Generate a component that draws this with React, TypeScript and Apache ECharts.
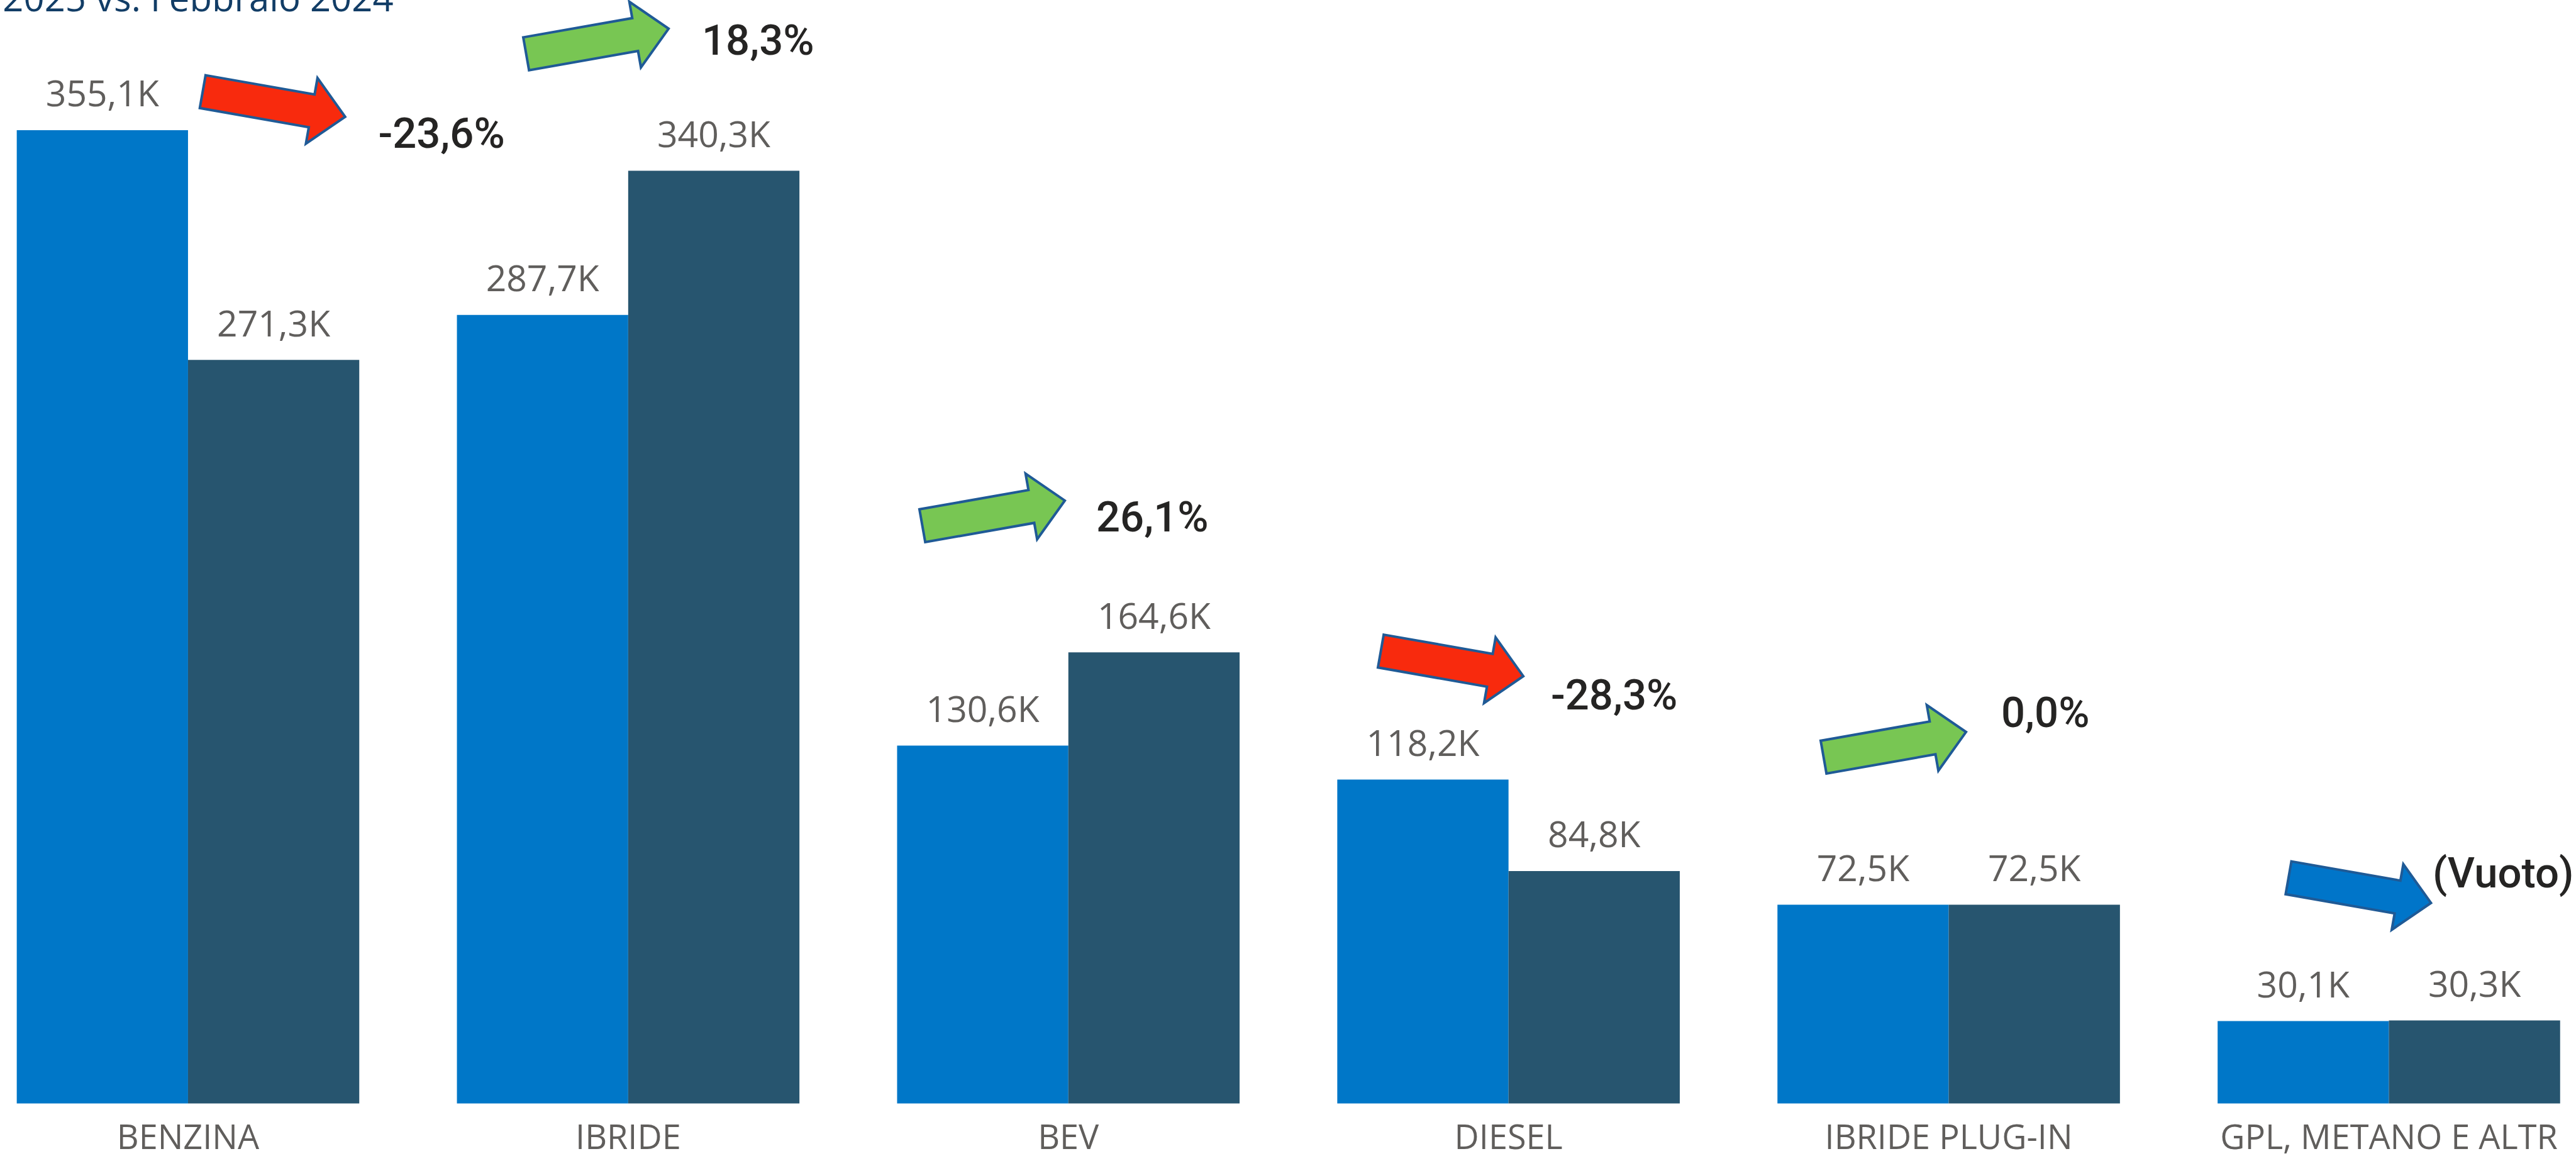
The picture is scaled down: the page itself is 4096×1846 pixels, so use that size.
import React, { useEffect, useRef } from 'react';
import * as echarts from 'echarts';

// ---- data ----
const categories = ['BENZINA', 'IBRIDE', 'BEV', 'DIESEL', 'IBRIDE PLUG-IN', 'GPL, METANO E ALTR'];
const feb2024 = [355.1, 287.7, 130.6, 118.2, 72.5, 30.1]; // thousands
const feb2025 = [271.3, 340.3, 164.6, 84.8, 72.5, 30.3]; // thousands
const changeLabels = ['-23,6%', '18,3%', '26,1%', '-28,3%', '0,0%', '(Vuoto)'];
const changeKinds = ['down', 'up', 'up', 'down', 'up', 'blank'];
const subtitle = '2025 vs. Febbraio 2024';

// ---- layout of annotations (output px) ----
const arrowTails = [
  [322.3, 145.7],
  [836.6, 85.5],
  [1466.6, 835.9],
  [2195.6, 1035.2],
  [2899.6, 1203.8],
  [3638.9, 1395.7],
];
const changeTextPos = [
  [601.4, 211.9],
  [1116, 63.6],
  [1743, 822],
  [2466, 1105],
  [3182, 1132.5],
  [3868, 1387.7],
];

const ARROW_FILL: Record<string, string> = { down: '#F82A0D', up: '#78C653', blank: '#0075C9' };
const ARROW_ANGLE: Record<string, number> = { down: 10, up: -10, blank: 10 };

function arrowPoints(tx: number, ty: number, angleDeg: number) {
  const ht = 26.5, sl = 176, hw = 53, hl = 54;
  const local = [
    [0, -ht], [sl, -ht], [sl, -hw], [sl + hl, 0], [sl, hw], [sl, ht], [0, ht],
  ];
  const a = (angleDeg * Math.PI) / 180;
  const c = Math.cos(a), s = Math.sin(a);
  return local.map(([px, py]) => [tx + px * c - py * s, ty + px * s + py * c]);
}

const fmt = (p: any) => p.value.toFixed(1).replace('.', ',') + 'K';

export default function App() {
  const ref = useRef<HTMLDivElement>(null);
  useEffect(() => {
    if (!ref.current) return;
    const chart = echarts.init(ref.current, null, { renderer: 'svg' });

    const graphics: any[] = [
      {
        type: 'text',
        x: 4.3,
        y: -4.2,
        style: {
          text: subtitle,
          fontSize: 58,
          fontFamily: '"Open Sans", sans-serif',
          fill: '#123D66',
          verticalAlign: 'middle',
          align: 'left',
        },
      },
    ];
    changeKinds.forEach((k, i) => {
      graphics.push({
        type: 'polygon',
        shape: { points: arrowPoints(arrowTails[i][0], arrowTails[i][1], ARROW_ANGLE[k]) },
        style: { fill: ARROW_FILL[k], stroke: '#1F5A96', lineWidth: 4, lineJoin: 'miter' },
      });
      graphics.push({
        type: 'text',
        x: changeTextPos[i][0],
        y: changeTextPos[i][1],
        style: {
          text: changeLabels[i],
          fontSize: 67,
          fontWeight: 500,
          fontFamily: 'Roboto, sans-serif',
          fill: '#252423',
          verticalAlign: 'middle',
          align: 'left',
        },
      });
    });

    const labelStyle = {
      show: true,
      position: 'top',
      distance: 31,
      fontSize: 57,
      color: '#605E5C',
      fontFamily: '"Open Sans", sans-serif',
      formatter: fmt,
    };

    chart.setOption({
      animation: false,
      grid: {
        left: -51,
        top: 11.2,
        width: 4199.4,
        height: 1743.4,
        containLabel: false,
        outerBoundsMode: 'none',
      },
      xAxis: {
        type: 'category',
        data: categories,
        axisLine: { show: false },
        axisTick: { show: false },
        splitLine: { show: false },
        axisLabel: {
          interval: 0,
          margin: 24,
          fontSize: 54,
          color: '#605E5C',
          fontFamily: '"Open Sans", sans-serif',
        },
      },
      yAxis: { type: 'value', min: 0, max: 400, show: false, splitLine: { show: false } },
      series: [
        {
          type: 'bar',
          name: 'Febbraio 2024',
          data: feb2024,
          barWidth: 272.3,
          barGap: '0%',
          itemStyle: { color: '#0077C8' },
          label: labelStyle,
        },
        {
          type: 'bar',
          name: 'Febbraio 2025',
          data: feb2025,
          barWidth: 272.3,
          barGap: '0%',
          itemStyle: { color: '#27556F' },
          label: labelStyle,
        },
      ],
      graphic: graphics,
    });
    return () => chart.dispose();
  }, []);

  return (
    <div
      ref={ref}
      style={{ position: 'fixed', left: 0, top: 0, width: '4096px', height: '1846px', background: '#fff' }}
    />
  );
}
